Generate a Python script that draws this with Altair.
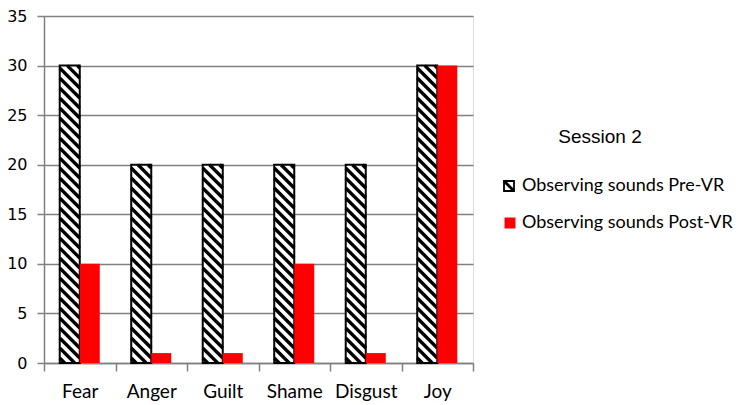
import altair as alt
import numpy as np
import pandas as pd

# ---- data ----
categories = ["Fear", "Anger", "Guilt", "Shame", "Disgust", "Joy"]
pre_vr = [30, 20, 20, 20, 20, 30]
post_vr = [10, 1, 1, 10, 1, 30]
y_ticks = [0, 5, 10, 15, 20, 25, 30, 35]
series_names = ["Observing sounds Pre-VR", "Observing sounds Post-VR"]
legend_title = "Session 2"

# ---- layout / style ----
W, H = 429, 347
Y_MAX = 35
N = len(categories)
BAR_W = 0.28           # bar width as a fraction of a category slot
HATCH_STEP = 10.0      # px between hatch lines (vertical)
HATCH_SLOPE = 1.0      # px down per px right
HATCH_W = 3.3
GRID = "#808080"

x_scale = alt.Scale(domain=[0, N], nice=False, zero=False)
y_scale = alt.Scale(domain=[0, Y_MAX], nice=False)

cat_js = "[" + ",".join("'%s'" % c for c in categories) + "]"
x_axis = alt.Axis(
    values=list(range(N + 1)),
    labelExpr="datum.value < %d ? %s[datum.value] : ''" % (N, cat_js),
    labelOffset=W / N / 2,
    labelOverlap=False, labelFlush=False, labelBound=False,
    grid=False, title=None, tickSize=8, tickColor=GRID, domainColor=GRID,
    tickWidth=1.5, domainWidth=1.5,
    labelFont="Lato", labelFontSize=19, labelColor="black", labelPadding=11,
)
y_axis = alt.Axis(
    values=y_ticks, grid=True, gridColor=GRID, gridWidth=1.6, title=None,
    tickSize=7, tickColor=GRID, tickWidth=1.5, domainColor=GRID, domainWidth=1.5,
    labelFont="DejaVu Sans", labelFontSize=16, labelColor="black", labelPadding=10,
)

X = alt.X("x:Q", scale=x_scale, axis=x_axis)
X2 = alt.X2("x2")
Y = alt.Y("y:Q", scale=y_scale, axis=y_axis)
Y2 = alt.Y2("y2")

pre_df = pd.DataFrame({
    "cat": categories,
    "x": [i + 0.5 - BAR_W for i in range(N)],
    "x2": [i + 0.5 for i in range(N)],
    "y": pre_vr,
    "y2": [0] * N,
})
post_df = pd.DataFrame({
    "cat": categories,
    "x": [i + 0.5 for i in range(N)],
    "x2": [i + 0.5 + BAR_W for i in range(N)],
    "y": post_vr,
    "y2": [0] * N,
})

# hatch ("\" diagonal) segments inside each Pre-VR bar, derived from the values
sx = W / N
sy = H / Y_MAX
k = HATCH_SLOPE
rows = []
for x0, v in zip(pre_df["x"], pre_vr):
    bw = BAR_W * sx
    bh = v * sy
    c = HATCH_STEP / 2
    while c < bh + k * bw:
        lo = max(0.0, (c - bh) / k)
        hi = min(bw, c / k)
        if hi > lo:
            rows.append({
                "x": x0 + lo / sx, "x2": x0 + hi / sx,
                "y": (c - k * lo) / sy, "y2": (c - k * hi) / sy,
            })
        c += HATCH_STEP
hatch_df = pd.DataFrame(rows)

pre_fill = alt.Chart(pre_df).mark_rect(fill="white").encode(x=X, x2=X2, y=Y, y2=Y2)
hatch = alt.Chart(hatch_df).mark_rule(color="black", strokeWidth=HATCH_W).encode(
    x=X, x2=X2, y=Y, y2=Y2)
pre_outline = alt.Chart(pre_df).mark_rect(
    stroke="black", strokeWidth=2, fillOpacity=0
).encode(x=X, x2=X2, y=Y, y2=Y2)
post_bars = alt.Chart(post_df).mark_rect(fill="#ff0000").encode(x=X, x2=X2, y=Y, y2=Y2)

# ---- legend ----
title_df = pd.DataFrame({"t": [legend_title]})
leg_title = alt.Chart(title_df).mark_text(
    font="Liberation Sans", fontSize=19, color="black", align="center", baseline="middle"
).encode(text="t:N", x=alt.value(556), y=alt.value(121))

lab1 = alt.Chart(pd.DataFrame({"t": [series_names[0]]})).mark_text(
    font="Lato", fontSize=18, color="black", align="left", baseline="middle"
).encode(text="t:N", x=alt.value(478), y=alt.value(170))
lab2 = alt.Chart(pd.DataFrame({"t": [series_names[1]]})).mark_text(
    font="Lato", fontSize=18, color="black", align="left", baseline="middle"
).encode(text="t:N", x=alt.value(478), y=alt.value(207))

sym1 = alt.Chart(pd.DataFrame({"t": [series_names[0]]})).mark_point(
    shape="square", size=100, filled=True, fill="white", stroke="black",
    strokeWidth=1.8, opacity=1
).encode(x=alt.value(465), y=alt.value(170))
sym1b = alt.Chart(pd.DataFrame({"t": [series_names[0]]})).mark_point(
    shape="M-1,-1L1,1", size=100, filled=False, stroke="black", strokeWidth=3, opacity=1
).encode(x=alt.value(465), y=alt.value(170))
sym2 = alt.Chart(pd.DataFrame({"t": [series_names[1]]})).mark_point(
    shape="square", size=120, filled=True, fill="#ff0000", stroke="#ff0000",
    strokeWidth=0, opacity=1
).encode(x=alt.value(466), y=alt.value(207))

chart = alt.layer(
    pre_fill, hatch, pre_outline, post_bars,
    leg_title, lab1, lab2, sym1, sym1b, sym2,
).properties(
    width=W, height=H,
    autosize=alt.AutoSizeParams(type="none"),
    padding={"left": 36, "top": 8, "right": 262, "bottom": 42},
).configure_view(stroke=None).configure(background="white")

chart.save("out.html", embed_options={"renderer": "svg", "actions": False})
